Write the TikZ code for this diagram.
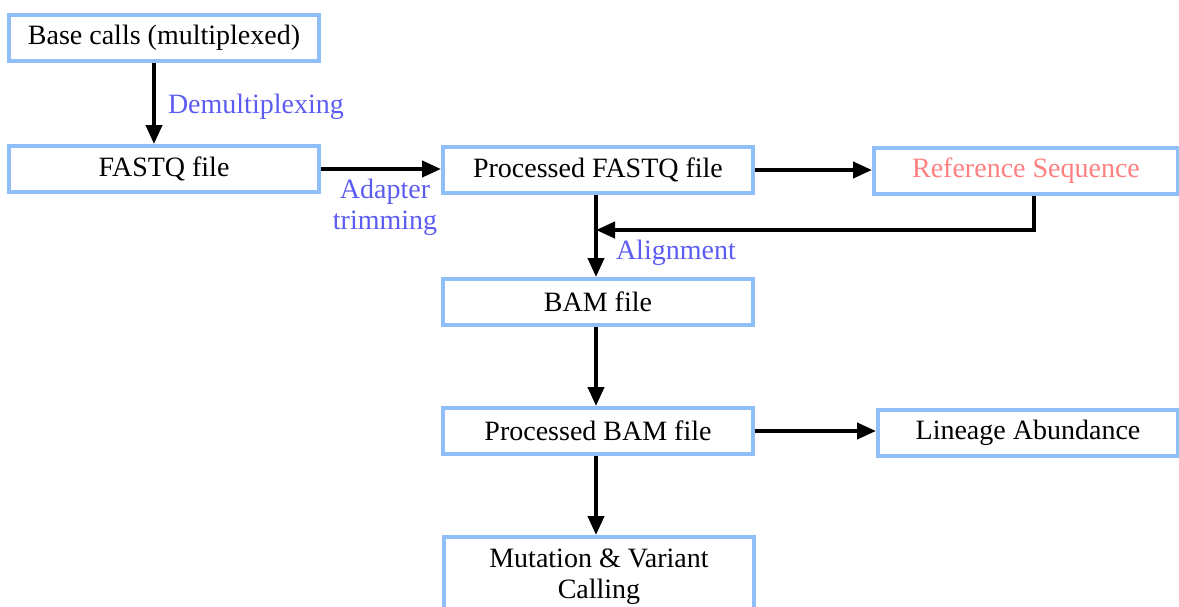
\documentclass[tikz,border=0pt]{standalone}
\usepackage{fontspec}
\setmainfont{Liberation Serif}
\usetikzlibrary{arrows.meta}
\definecolor{boxblue}{RGB}{143,190,248}
\definecolor{stepblue}{RGB}{92,92,242}
\definecolor{refpink}{RGB}{255,128,128}
\begin{document}
\begin{tikzpicture}[x=1pt, y=-1pt, font=\fontsize{28}{31}\selectfont, line width=4pt, >={Triangle[length=19pt,width=16pt]}, main/.style = {draw=boxblue, rectangle, minimum width=310pt, minimum height=46pt, inner sep=0pt, fill=white}, lbl/.style = {text=stepblue, inner sep=2pt}]
        \useasboundingbox (0,0) rectangle (1179,606);
        \node[main] (1) at (164,38) {Base calls (multiplexed)};
        \node[main] (2) at (164,169) {FASTQ file};
        \node[main] (3) at (598,170) {Processed FASTQ file};
        \node[main, minimum width=304pt, text=refpink] (4) at (1026,171) {Reference Sequence};
        \node[main] (5) at (598,302) {BAM file};
        \node[main] (6) at (598,431) {Processed BAM file};
        \node[main, minimum width=300pt] (7) at (1028,433) {Lineage Abundance};
        \node[main, minimum height=80pt, align=center] (8) at (599,577) {Mutation \& Variant\\Calling};
        \coordinate (m) at (596,230);
        \draw[->] ([xshift=-10pt]1.south) -- node[lbl, right, xshift=10pt, yshift=-3pt] (d) {Demultiplexing} ([xshift=-10pt]2.north);
        \draw[->] (2.east) -- node[lbl, below, align=center, xshift=4pt, yshift=-6pt] (t) {Adapter\\trimming} (2.east -| 3.west);
        \draw[->] (3.east) -- (3.east -| 4.west);
        \draw[->] ([xshift=8pt]4.south) |- (m);
        \draw[->] ([xshift=-2pt]3.south) -- ([xshift=-2pt]5.north);
        \node[lbl, anchor=west] (a) at (612,253) {Alignment};
        \draw[->] ([xshift=-2pt]5.south) -- ([xshift=-2pt]6.north);
        \draw[->] (6.east) -- (6.east -| 7.west);
        \draw[->] ([xshift=-2pt]6.south) -- ([xshift=-3pt]8.north);
    \end{tikzpicture}
\end{document}
